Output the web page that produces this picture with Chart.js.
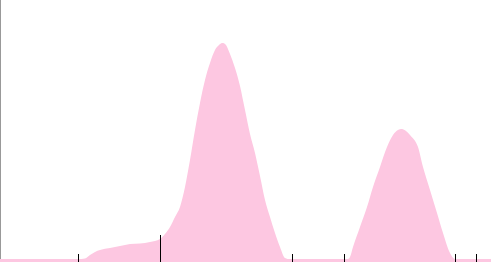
<!DOCTYPE html>
<html>
<head>
<meta charset="utf-8">
<script src="https://cdn.jsdelivr.net/npm/chart.js@4"></script>
<style>
    body { margin: 0; background: #fff; }
    #wrap { width: 491px; height: 262px; position: relative; }
</style>
</head>
<body>
<div id="wrap"><canvas id="myChart"></canvas></div>
<script>
// density curve
var xValues = [0, 2, 4, 6, 7.8, 8.5, 9, 9.5, 10, 11, 12, 13, 14, 15, 16, 16.5, 17, 17.5, 18, 18.5,
    19, 19.5, 20, 20.5, 21, 21.5, 21.9, 22.2, 22.6, 23, 23.5, 24, 24.5, 25, 25.5, 26, 26.5,
    27, 27.5, 28, 28.5, 29, 31, 33, 34.7, 35, 35.3, 36, 36.7, 37.3, 38, 38.7, 39.3, 39.8,
    40.2, 40.6, 41, 41.8, 42.3, 43, 43.7, 44.3, 45, 45.5, 47, 49.1];
var yValues = [0.3, 0.3, 0.3, 0.3, 0.3, 0.35, 0.7, 1.0, 1.2, 1.4, 1.6, 1.8, 1.85, 2.0, 2.3, 2.8, 3.5, 4.5, 5.5, 7.5,
    10.2, 13.2, 15.9, 18.2, 19.9, 21.2, 21.7, 21.9, 21.7, 20.8, 19.4, 17.6, 15.2, 12.8, 10.9, 8.6, 6.2,
    4.5, 2.9, 1.5, 0.4, 0.3, 0.3, 0.3, 0.3, 0.5, 1.5, 3.5, 5.5, 7.5, 9.5, 11.5, 12.7, 13.2,
    13.3, 13.1, 12.7, 11.5, 9.5, 7.2, 4.9, 2.9, 0.9, 0.3, 0.3, 0.3];

// rug marks
var rugX = [7.85, 16.05, 29.25, 34.45, 45.55, 47.65];
var rugY = [0.8, 2.7, 0.8, 0.8, 0.8, 0.8];

var curve = xValues.map(function (x, i) { return { x: x, y: yValues[i] }; });
var rug = [];
rugX.forEach(function (x, i) {
    rug.push({ x: x, y: 0 });
    rug.push({ x: x, y: rugY[i] });
    rug.push({ x: x, y: null });
});

new Chart("myChart", {
    type: "line",
    data: {
        datasets: [{
            data: rug,
            borderColor: "#000",
            borderWidth: 1,
            pointRadius: 0,
            spanGaps: false,
            fill: false
        }, {
            data: curve,
            backgroundColor: "#fdc7e1",
            borderColor: "#fdc7e1",
            borderWidth: 0,
            pointRadius: 0,
            cubicInterpolationMode: "monotone",
            fill: "origin"
        }]
    },
    options: {
        responsive: true,
        maintainAspectRatio: false,
        animation: false,
        layout: { padding: 0 },
        plugins: { legend: { display: false }, tooltip: { enabled: false } },
        scales: {
            x: { type: "linear", min: 0, max: 49.1, display: false },
            y: {
                min: 0,
                max: 26.2,
                ticks: { display: false },
                grid: { display: false },
                border: { color: "#999", width: 1 },
                afterFit: function (scale) { scale.width = 0; }
            }
        }
    }
});
</script>
</body>
</html>
